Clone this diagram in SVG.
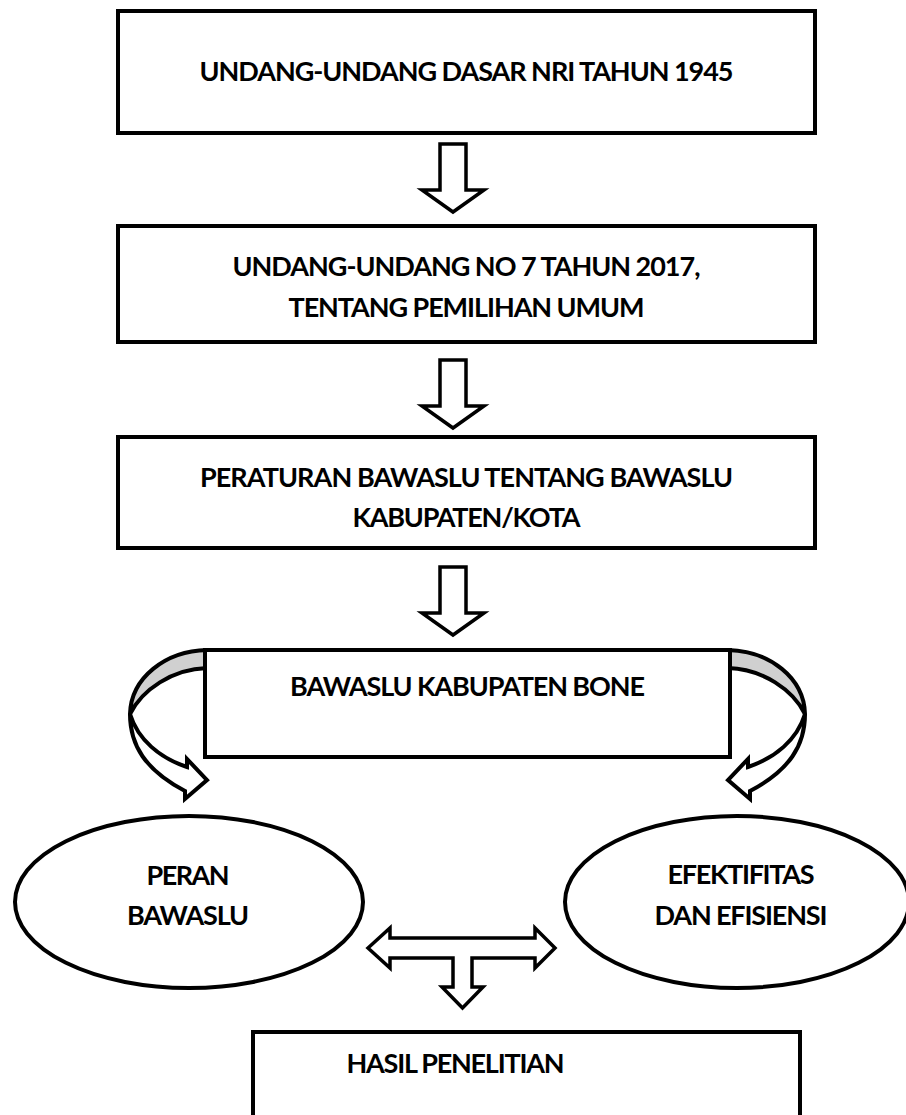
<svg xmlns="http://www.w3.org/2000/svg" width="906" height="1115" viewBox="0 0 906 1115">
<style>
.box{fill:#fff;stroke:#000;stroke-width:4}
.arr{fill:#fff;stroke:#000;stroke-width:3.5;stroke-linejoin:miter}
.t{font-family:Lato,"Liberation Sans",sans-serif;font-weight:bold;font-size:27px;fill:#000;text-anchor:middle}
.gray{fill:#d0d0d0;stroke:#000;stroke-width:4;stroke-linejoin:round}
.front{fill:#fff;stroke:#000;stroke-width:4;stroke-linejoin:miter}
</style>
<defs>
<path id="downArrow" d="M-13,0 L13,0 L13,46 L31,46 L0,68 L-31,46 L-13,46 Z"/>
<g id="curve">
<path class="gray" d="M207,650 C165,651 131,678 130,714 C142,690 172,669 207,668 Z"/>
<path class="front" d="M130,714 C130,745 145,770 185,791 L185,799 L207,780 L187,759 L187,767 C160,758 138,740 130,714 Z"/>
</g>
</defs>
<g id="connectors">
<use href="#downArrow" class="arr" transform="translate(453,144)"/>
<use href="#downArrow" class="arr" transform="translate(453,360)"/>
<use href="#downArrow" class="arr" transform="translate(453,567)"/>
<use href="#curve"/>
<use href="#curve" transform="translate(935,0) scale(-1,1)"/>
<path class="arr" stroke-linejoin="round" d="M368,948 L390,928 L390,938 L535,938 L535,928 L555,948 L535,968 L535,958 L472,958 L472,987 L483,987 L462.5,1008 L442,987 L453,987 L453,958 L390,958 L390,968 Z"/>
</g>
<g id="node-uud">
<rect class="box" x="118" y="11" width="697" height="122"/>
<text class="t" x="466.5" y="81" textLength="534" lengthAdjust="spacing">UNDANG-UNDANG DASAR NRI TAHUN 1945</text>
</g>
<g id="node-uu7">
<rect class="box" x="118" y="226" width="697" height="116"/>
<text class="t" x="466.5" y="276" textLength="468" lengthAdjust="spacing">UNDANG-UNDANG NO 7 TAHUN 2017,</text>
<text class="t" x="466.5" y="317" textLength="356" lengthAdjust="spacing">TENTANG PEMILIHAN UMUM</text>
</g>
<g id="node-perbawaslu">
<rect class="box" x="118" y="437" width="697" height="111"/>
<text class="t" x="466.5" y="487" textLength="533" lengthAdjust="spacing">PERATURAN BAWASLU TENTANG BAWASLU</text>
<text class="t" x="466.5" y="527" textLength="228" lengthAdjust="spacing">KABUPATEN/KOTA</text>
</g>
<g id="node-bone">
<rect class="box" x="205" y="650" width="525" height="107"/>
<text class="t" x="467.5" y="696" textLength="355" lengthAdjust="spacing">BAWASLU KABUPATEN BONE</text>
</g>
<g id="node-peran">
<ellipse class="box" cx="189" cy="902" rx="174" ry="86"/>
<text class="t" x="188" y="885" textLength="83" lengthAdjust="spacing">PERAN</text>
<text class="t" x="188" y="925" textLength="122" lengthAdjust="spacing">BAWASLU</text>
</g>
<g id="node-efektif">
<ellipse class="box" cx="737" cy="902" rx="172" ry="86"/>
<text class="t" x="741" y="884" textLength="147" lengthAdjust="spacing">EFEKTIFITAS</text>
<text class="t" x="741" y="925" textLength="173" lengthAdjust="spacing">DAN EFISIENSI</text>
</g>
<g id="node-hasil">
<rect class="box" x="253" y="1032" width="547" height="90"/>
<text class="t" x="455.5" y="1073" textLength="218" lengthAdjust="spacing">HASIL PENELITIAN</text>
</g>
</svg>
